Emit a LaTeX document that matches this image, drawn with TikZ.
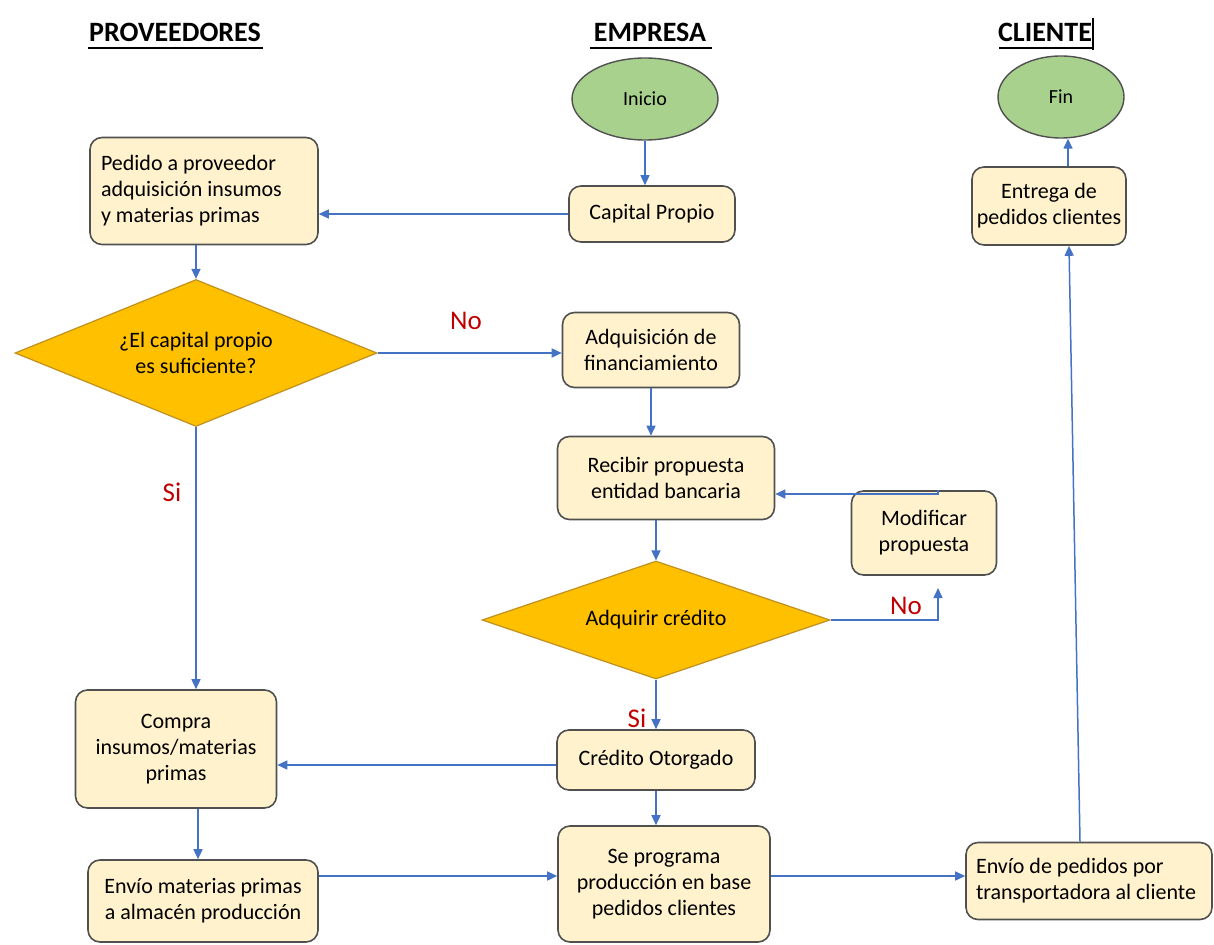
\documentclass[tikz,border=0pt]{standalone}
\usepackage{fontspec}
\setmainfont{Carlito}
\usetikzlibrary{shapes.geometric,arrows.meta}
\definecolor{boxfill}{HTML}{FFF2CC}
\definecolor{boxline}{HTML}{505050}
\definecolor{startfill}{HTML}{A9D18E}
\definecolor{decfill}{HTML}{FFC000}
\definecolor{decline}{HTML}{C09020}
\definecolor{flow}{HTML}{4472C4}
\definecolor{answer}{HTML}{C00000}
\tikzset{
  stepbox/.style={draw=boxline, line width=1.6pt, fill=boxfill, rounded corners=12pt,
    inner sep=0pt, align=center, font=\fontsize{22}{26}\selectfont},
  terminal/.style={ellipse, draw=boxline, line width=1.4pt, fill=startfill, inner sep=0pt,
    font=\fontsize{20}{24}\selectfont},
  decision/.style={diamond, draw=decline, line width=1.2pt, fill=decfill, inner sep=0pt,
    align=center, font=\fontsize{22}{26}\selectfont},
  header/.style={font=\fontsize{28}{32}\selectfont\bfseries, inner sep=0pt},
  flowline/.style={draw=flow, line width=1.5pt, -{Triangle[length=10pt,width=9pt]}},
  answerlabel/.style={text=answer, font=\fontsize{27}{30}\selectfont, inner sep=0pt}
}
\begin{document}
\begin{tikzpicture}[x=1pt,y=-1pt]
\useasboundingbox (0,0) rectangle (1214,944);

% column headers
\node[header] (hprov) at (175,32) {PROVEEDORES};
\node[header] (hemp) at (650,32) {EMPRESA};
\node[header] (hcli) at (1045,32) {CLIENTE};
\draw[line width=1.6pt] (88,48) -- (263,48);
\draw[line width=1.6pt] (590,48) -- (712,48);
\draw[line width=1.6pt] (999,48) -- (1092,48);
\draw[line width=1.2pt] (1093,18) -- (1093,50);

% start and end
\node[terminal, minimum width=146pt, minimum height=82pt] (inicio) at (645,99) {Inicio};
\node[terminal, minimum width=126pt, minimum height=82pt] (fin) at (1061,97) {Fin};

% process steps
\node[stepbox, minimum width=228pt, minimum height=107pt, text width=206pt, align=flush left] (pedido) at (204,191)
  {Pedido a proveedor\\adquisición insumos\\y materias primas};
\node[stepbox, minimum width=166pt, minimum height=56pt] (capital) at (652,214) {Capital Propio};
\node[stepbox, minimum width=154pt, minimum height=78pt] (entrega) at (1049,206) {Entrega de\\pedidos clientes};
\node[stepbox, minimum width=177pt, minimum height=75pt] (adq) at (651,350) {Adquisición de\\financiamiento};
\node[stepbox, minimum width=217pt, minimum height=83pt] (recibir) at (666,478) {Recibir propuesta\\entidad bancaria};
\node[stepbox, minimum width=145pt, minimum height=84pt] (modificar) at (924,533) {Modificar\\propuesta};
\node[stepbox, minimum width=198pt, minimum height=60pt] (credito) at (656,760) {Crédito Otorgado};
\node[stepbox, minimum width=201pt, minimum height=118pt] (compra) at (176,749) {Compra\\insumos/materias\\primas};
\node[stepbox, minimum width=230pt, minimum height=82pt] (envio) at (203,901) {Envío materias primas\\a almacén producción};
\node[stepbox, minimum width=212pt, minimum height=116pt] (seprog) at (664,884) {Se programa\\producción en base\\pedidos clientes};
\node[stepbox, minimum width=246pt, minimum height=77pt, text width=226pt, align=flush left] (enviop) at (1089,881)
  {Envío de pedidos por\\transportadora al cliente};

% decisions
\node[decision, aspect=2.46, minimum width=362pt, minimum height=147pt] (d1) at (196,353) {¿El capital propio\\es suficiente?};
\node[decision, aspect=2.95, minimum width=348pt, minimum height=118pt] (d2) at (656,620) {Adquirir crédito};

% loop-back points
\coordinate (modtop) at ([xshift=14pt]modificar.north);
\coordinate (nobend) at (938,620);
\coordinate (noend) at (938,588);

% connectors
\draw[flowline] (inicio.south) -- (inicio.south |- capital.north);
\draw[flowline] (capital.west) -- (capital.west -| pedido.east);
\draw[flowline] (d1.north |- pedido.south) -- (d1.north);
\draw[flowline] (d1.east) -- (d1.east -| adq.west);
\draw[flowline] (d1.south) -- (d1.south |- compra.north);
\draw[flowline] (adq.south) -- (adq.south |- recibir.north);
\draw[flowline] (modtop) |- ([yshift=-16pt]recibir.east);
\draw[flowline] (recibir.south -| d2.north) -- (d2.north);
\draw[flowline] (d2.east) -- (nobend) -- (noend);
\draw[flowline] (d2.south) -- (credito.north);
\draw[flowline] ([yshift=-5pt]credito.west) -- ([yshift=-5pt]credito.west -| compra.east);
\draw[flowline] ([xshift=22pt]compra.south) -- ([xshift=22pt]compra.south |- envio.north);
\draw[flowline] ([yshift=8pt]seprog.west -| envio.east) -- ([yshift=8pt]seprog.west);
\draw[flowline] (credito.south) -- (credito.south |- seprog.north);
\draw[flowline] ([yshift=8pt]seprog.east) -- ([yshift=8pt]seprog.east -| enviop.west);
\draw[flowline] ([xshift=-9pt]enviop.north) -- ([xshift=20pt]entrega.south);
\draw[flowline] ([xshift=19pt]entrega.north) -- ([xshift=19pt]entrega.north |- fin.south);

% answer labels
\node[answerlabel] (no1) at (466,321) {No};
\node[answerlabel] (si1) at (172,492) {Si};
\node[answerlabel] (no2) at (906,606) {No};
\node[answerlabel] (si2) at (637,718) {Si};
\end{tikzpicture}
\end{document}
